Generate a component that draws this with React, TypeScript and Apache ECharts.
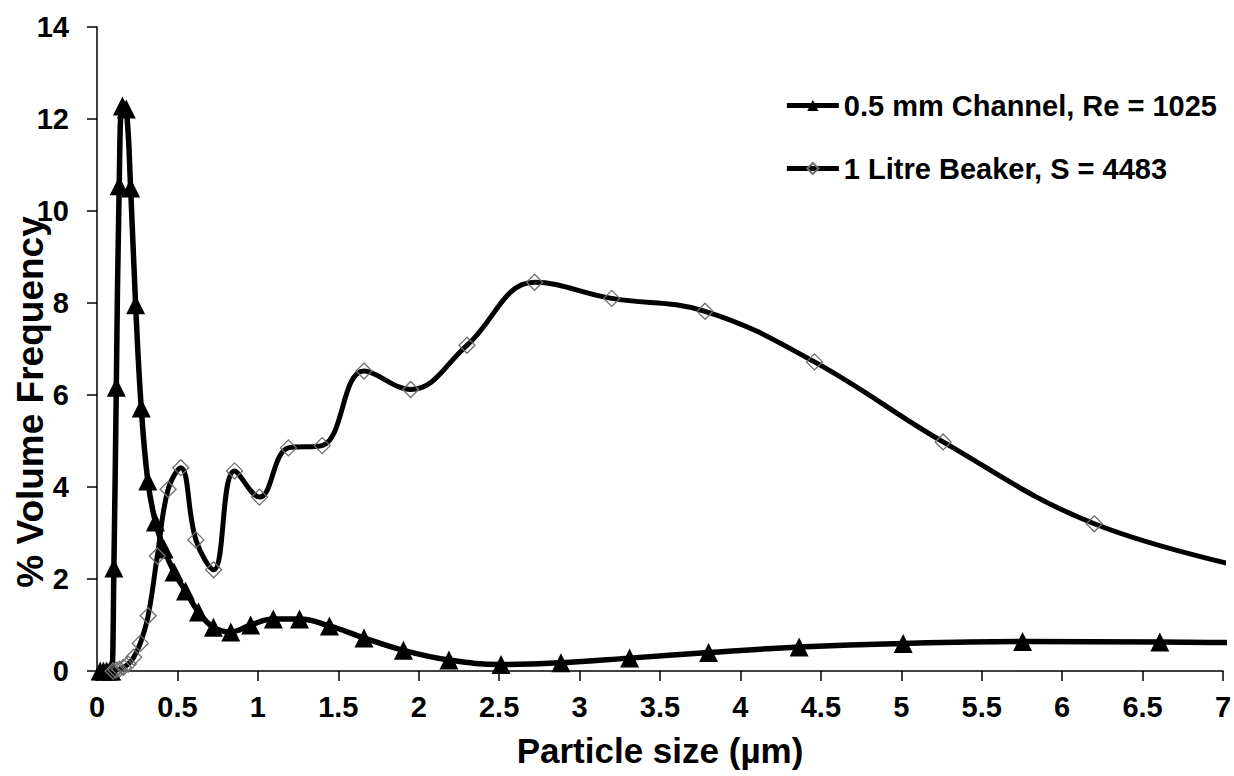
import React, { useEffect, useRef } from "react";
import * as echarts from "echarts";

// Particle size bins (µm) and % volume frequency for the micro-channel run
const channelSize = [
  0.02, 0.04, 0.06, 0.079, 0.091, 0.105, 0.12, 0.138, 0.158, 0.182, 0.209, 0.24,
  0.275, 0.316, 0.363, 0.417, 0.479, 0.55, 0.631, 0.724, 0.832, 0.955, 1.096,
  1.259, 1.445, 1.66, 1.905, 2.188, 2.512, 2.884, 3.311, 3.802, 4.365, 5.012,
  5.754, 6.607, 7.586,
];
const channelFreq = [
  0, 0, 0, 0, 0, 2.24, 6.17, 10.55, 12.28, 12.22, 10.5, 7.96, 5.72, 4.13, 3.24,
  2.65, 2.15, 1.74, 1.28, 0.95, 0.85, 1.0, 1.13, 1.13, 0.98, 0.72, 0.45, 0.24,
  0.14, 0.18, 0.28, 0.4, 0.52, 0.6, 0.64, 0.63, 0.6,
];

// Particle size bins (µm) and % volume frequency for the stirred beaker run
const beakerSize = [
  0.1, 0.118, 0.139, 0.164, 0.194, 0.228, 0.269, 0.318, 0.375, 0.442, 0.521,
  0.615, 0.725, 0.855, 1.01, 1.19, 1.4, 1.66, 1.95, 2.3, 2.72, 3.2, 3.78, 4.46,
  5.26, 6.2, 7.31,
];
const beakerFreq = [
  0.0, 0.02, 0.04, 0.08, 0.15, 0.3, 0.6, 1.2, 2.5, 3.95, 4.42, 2.85, 2.2, 4.35,
  3.78, 4.85, 4.9, 6.52, 6.12, 7.08, 8.45, 8.1, 7.82, 6.72, 4.98, 3.2, 2.12,
];

const seriesNames = ["0.5 mm Channel, Re = 1025", "1 Litre Beaker, S = 4483"];
const xTitle = "Particle size (µm)";
const yTitle = "% Volume Frequency";

const FONT = "Arial, 'Liberation Sans', Helvetica, sans-serif";

export default function App() {
  const ref = useRef<HTMLDivElement>(null);

  useEffect(() => {
    if (!ref.current) return;
    const chart = echarts.init(ref.current, undefined, { renderer: "svg" });
    const pair = (xs: number[], ys: number[]) => xs.map((x, i) => [x, ys[i]]);

    chart.setOption({
      animation: false,
      backgroundColor: "#ffffff",
      textStyle: { fontFamily: FONT },
      grid: {
        left: 97,
        right: 11,
        top: 27,
        bottom: 105,
        containLabel: false,
        outerBoundsMode: "none",
      },
      legend: {
        orient: "vertical",
        right: 12,
        top: 86,
        itemGap: 34,
        itemWidth: 52,
        itemHeight: 14,
        align: "left",
        lineStyle: { width: 5, color: "#000" },
        textStyle: {
          fontSize: 29,
          fontWeight: "bold",
          color: "#000",
          fontFamily: FONT,
        },
        data: seriesNames,
      },
      // Vertical axis title, drawn as free text so it can sit a little low
      graphic: [
        {
          type: "text",
          x: 30,
          y: 402,
          rotation: Math.PI / 2,
          style: {
            text: yTitle,
            fontSize: 37,
            fontWeight: "bold",
            fontFamily: FONT,
            fill: "#000",
            align: "center",
            verticalAlign: "middle",
          },
        },
      ],
      xAxis: {
        type: "value",
        min: 0,
        max: 7,
        interval: 0.5,
        name: xTitle,
        nameLocation: "middle",
        nameGap: 62,
        nameTextStyle: {
          fontSize: 35,
          fontWeight: "bold",
          color: "#000",
          fontFamily: FONT,
        },
        axisLine: { show: true, lineStyle: { color: "#000", width: 1.5 } },
        axisTick: { show: true, inside: false, length: 10, lineStyle: { color: "#000", width: 1.5 } },
        axisLabel: {
          fontSize: 29,
          fontWeight: "bold",
          color: "#000",
          margin: 21,
          fontFamily: FONT,
        },
        splitLine: { show: false },
      },
      yAxis: {
        type: "value",
        min: 0,
        max: 14,
        interval: 2,
        axisLine: { show: true, lineStyle: { color: "#000", width: 1.5 } },
        axisTick: { show: true, inside: false, length: 10, lineStyle: { color: "#000", width: 1.5 } },
        axisLabel: {
          fontSize: 29,
          fontWeight: "bold",
          color: "#000",
          margin: 28,
          fontFamily: FONT,
        },
        splitLine: { show: false },
      },
      series: [
        {
          name: seriesNames[0],
          type: "line",
          data: pair(channelSize, channelFreq),
          smooth: 0.4,
          clip: true,
          symbol: "triangle",
          symbolSize: 19,
          showAllSymbol: true,
          lineStyle: { color: "#000", width: 5.5 },
          itemStyle: { color: "#000", borderColor: "#000", borderWidth: 0 },
          z: 2,
        },
        {
          name: seriesNames[1],
          type: "line",
          data: pair(beakerSize, beakerFreq),
          smooth: 0.4,
          clip: true,
          symbol: "diamond",
          symbolSize: 16,
          showAllSymbol: true,
          lineStyle: { color: "#000", width: 5 },
          itemStyle: { color: "rgba(255,255,255,0)", borderColor: "#6e6e6e", borderWidth: 1.3 },
          z: 3,
        },
      ],
    });

    return () => chart.dispose();
  }, []);

  return (
    <div
      ref={ref}
      style={{ position: "absolute", left: 0, top: 0, width: 1234, height: 776 }}
    />
  );
}
